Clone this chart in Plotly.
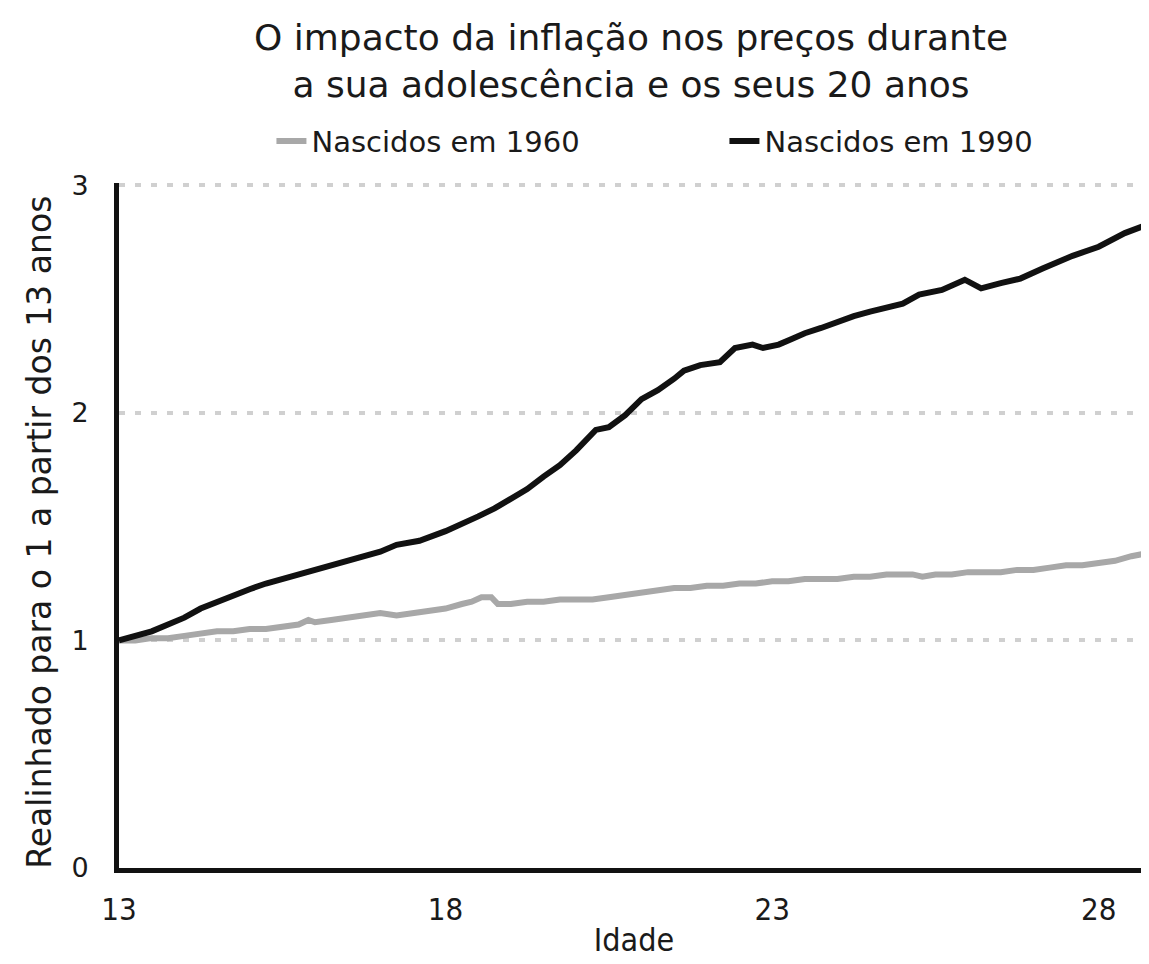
import plotly.graph_objects as go

# Age (years) and values
age_1960 = [13.0, 13.25, 13.5, 13.75, 14.0, 14.25, 14.5, 14.75, 15.0, 15.25, 15.5, 15.75, 15.9, 16.0,
            16.25, 16.5, 16.75, 17.0, 17.25, 17.5, 17.75, 18.0, 18.25, 18.4, 18.55, 18.7, 18.8, 19.0,
            19.25, 19.5, 19.75, 20.0, 20.25, 20.5, 20.75, 21.0, 21.25, 21.5, 21.75, 22.0, 22.25, 22.5,
            22.75, 23.0, 23.25, 23.5, 23.75, 24.0, 24.25, 24.5, 24.75, 25.0, 25.15, 25.3, 25.5, 25.75,
            26.0, 26.25, 26.5, 26.75, 27.0, 27.25, 27.5, 27.75, 28.0, 28.25, 28.5, 28.77]
val_1960 = [1.00, 1.00, 1.01, 1.01, 1.02, 1.03, 1.04, 1.04, 1.05, 1.05, 1.06, 1.07, 1.09, 1.08,
            1.09, 1.10, 1.11, 1.12, 1.11, 1.12, 1.13, 1.14, 1.16, 1.17, 1.19, 1.19, 1.16, 1.16,
            1.17, 1.17, 1.18, 1.18, 1.18, 1.19, 1.20, 1.21, 1.22, 1.23, 1.23, 1.24, 1.24, 1.25,
            1.25, 1.26, 1.26, 1.27, 1.27, 1.27, 1.28, 1.28, 1.29, 1.29, 1.29, 1.28, 1.29, 1.29,
            1.30, 1.30, 1.30, 1.31, 1.31, 1.32, 1.33, 1.33, 1.34, 1.35, 1.37, 1.385]

age_1990 = [13.0, 13.25, 13.5, 13.75, 14.0, 14.25, 14.5, 14.75, 15.0, 15.25, 15.5, 15.75, 16.0,
            16.25, 16.5, 16.75, 17.0, 17.25, 17.6, 18.0, 18.25, 18.5, 18.75, 19.0, 19.25,
            19.5, 19.75, 20.0, 20.15, 20.3, 20.5, 20.75, 21.0, 21.25, 21.5, 21.65, 21.9, 22.2,
            22.43, 22.7, 22.86, 23.1, 23.3, 23.5, 23.75, 24.0, 24.25, 24.5, 24.75, 25.0, 25.25,
            25.6, 25.95, 26.2, 26.5, 26.8, 27.15, 27.6, 28.0, 28.4, 28.77]
val_1990 = [1.00, 1.02, 1.04, 1.07, 1.10, 1.14, 1.17, 1.20, 1.225, 1.25, 1.27, 1.295, 1.315,
            1.33, 1.355, 1.375, 1.39, 1.42, 1.438, 1.48, 1.51, 1.545, 1.58, 1.62, 1.665,
            1.72, 1.77, 1.835, 1.88, 1.925, 1.937, 1.99, 2.06, 2.10, 2.15, 2.185, 2.21, 2.223,
            2.285, 2.30, 2.285, 2.30, 2.325, 2.35, 2.373, 2.40, 2.425, 2.445, 2.46, 2.48, 2.52,
            2.54, 2.585, 2.547, 2.57, 2.59, 2.635, 2.69, 2.73, 2.79, 2.83]

x_ticks = [13, 18, 23, 28]
y_ticks = [0, 1, 2, 3]

REG = "DejaVu Sans, sans-serif"
COND = "DejaVu Sans Condensed, DejaVu Sans, sans-serif"
INK = "#1a1a1a"

fig = go.Figure()
fig.add_trace(go.Scatter(x=age_1960, y=val_1960, mode="lines", name="Nascidos em 1960",
                         line=dict(color="#a8a8a8", width=6)))
fig.add_trace(go.Scatter(x=age_1990, y=val_1990, mode="lines", name="Nascidos em 1990",
                         line=dict(color="#111111", width=6)))

fig.add_annotation(text="O impacto da inflação nos preços durante<br>a sua adolescência e os seus 20 anos",
                   xref="paper", yref="paper", x=0.497, y=1.245, xanchor="center", yanchor="top",
                   showarrow=False, font=dict(family=REG, size=36, color=INK))
fig.add_annotation(text="Realinhado para o 1 a partir dos 13 anos", textangle=-90,
                   xref="paper", yref="paper", x=-0.078, y=0.4905, xanchor="center", yanchor="middle",
                   showarrow=False, font=dict(family=REG, size=33, color=INK))

# The page adds an 8 px body margin, so the figure is 8 px smaller than the window.
fig.update_layout(
    width=1141, height=956,
    paper_bgcolor="white", plot_bgcolor="white",
    margin=dict(l=111, r=0, t=175, b=96, autoexpand=False),
    legend=dict(orientation="h", x=0.148, xanchor="left", y=1.061, yanchor="middle",
                font=dict(family=REG, size=29, color=INK), itemwidth=30, entrywidth=408,
                bgcolor="rgba(0,0,0,0)"),
    showlegend=True,
)
fig.update_xaxes(range=[13, 28.77], tickvals=x_ticks, ticktext=[str(v) for v in x_ticks],
                 showgrid=False, zeroline=False, showline=True, linecolor="#111111", linewidth=5,
                 ticks="outside", ticklen=10, tickcolor="rgba(0,0,0,0)", automargin=False,
                 tickfont=dict(family=COND, size=31, color=INK),
                 title=dict(text="Idade", font=dict(family=COND, size=32, color=INK), standoff=4))
fig.update_yaxes(range=[0, 3.01], tickvals=y_ticks, ticktext=[str(v) for v in y_ticks],
                 showgrid=True, gridcolor="#d0d0d0", gridwidth=4, griddash="6px,10px",
                 zeroline=False, showline=True, linecolor="#111111", linewidth=5,
                 ticks="outside", ticklen=20, tickcolor="rgba(0,0,0,0)", automargin=False,
                 tickfont=dict(family=REG, size=27, color=INK))

fig.write_html("out.html")
